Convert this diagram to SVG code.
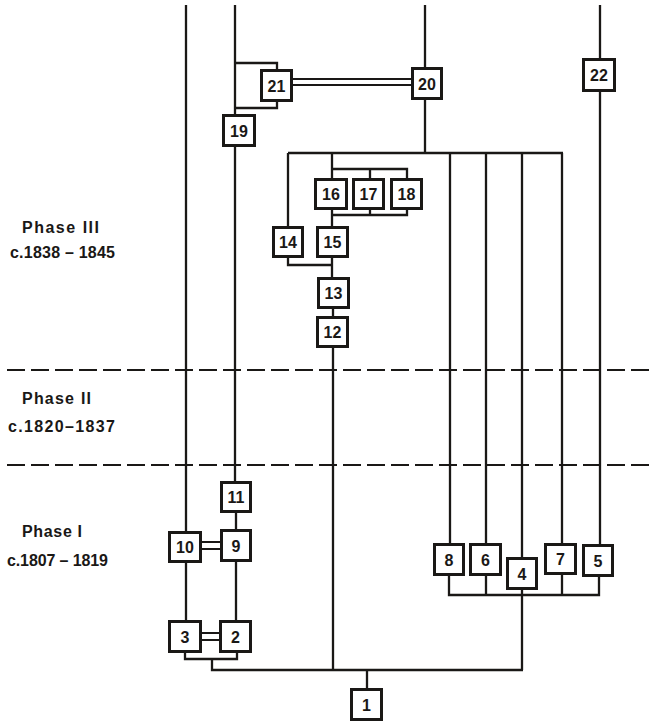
<svg xmlns="http://www.w3.org/2000/svg" width="651" height="724" viewBox="0 0 651 724">
<style>
.bx{fill:#fff;stroke:#1a1816;stroke-width:3}
.n{font-family:"Liberation Sans",Arial,sans-serif;font-weight:bold;font-size:16px;fill:#1a1816;text-anchor:middle}
.lb{font-family:"Liberation Sans",Arial,sans-serif;font-weight:bold;font-size:16px;fill:#1a1816}
.ln{fill:none;stroke:#1a1816;stroke-width:2.3}
.dl{fill:none;stroke:#1a1816;stroke-width:2}
.ds{fill:none;stroke:#1a1816;stroke-width:2;stroke-dasharray:18 6}
</style>
<rect width="651" height="724" fill="#fff"/>
<g id="phases">
<line class="ds" x1="7" y1="370" x2="651" y2="370"/>
<line class="ds" x1="7" y1="465" x2="651" y2="465"/>
<text class="lb" x="22" y="233" textLength="77" lengthAdjust="spacing">Phase III</text>
<text class="lb" x="10" y="258" textLength="105" lengthAdjust="spacing">c.1838 – 1845</text>
<text class="lb" x="22" y="404" textLength="69" lengthAdjust="spacing">Phase II</text>
<text class="lb" x="8" y="432" textLength="107" lengthAdjust="spacing">c.1820–1837</text>
<text class="lb" x="22" y="537" textLength="60" lengthAdjust="spacing">Phase I</text>
<text class="lb" x="7" y="566" textLength="101" lengthAdjust="spacing">c.1807 – 1819</text>
</g>
<g id="connectors">
<path class="ln" d="M186 5V531M186 563V620"/>
<path class="ln" d="M235 5V114M235 147V481M236 513V529M236 562V620"/>
<path class="ln" d="M235 63H277V69M277 102V108H235"/>
<path class="dl" d="M293 79H411M293 85H411"/>
<path class="ln" d="M425 5V67M425 100V153"/>
<path class="ln" d="M288 153H563M288 153V226M332 153V178"/>
<path class="ln" d="M332 169H407V178M370 169V178"/>
<path class="ln" d="M332 210V226M332 215H407V210M370 215V210"/>
<path class="ln" d="M288 258V265H332M332 258V277M333 309V316M333 348V670"/>
<path class="ln" d="M450 153V543M486 153V543M522 153V557M562 153V543"/>
<path class="ln" d="M600 5V58M600 92V544"/>
<path class="ln" d="M449 576V595H599V577M486 576V595M562 575V595M522 590V670"/>
<path class="dl" d="M202 542H220M202 549H220"/>
<path class="dl" d="M202 633H219M202 640H219"/>
<path class="ln" d="M185 653V659H237V653M212 659V670H523M367 670V688"/>
</g>
<g id="n1"><rect class="bx" x="351.5" y="689.5" width="30" height="30"/><text class="n" x="366.5" y="710.5">1</text></g>
<g id="n2"><rect class="bx" x="220.5" y="621.5" width="30" height="30"/><text class="n" x="235.5" y="642.5">2</text></g>
<g id="n3"><rect class="bx" x="169.5" y="621.5" width="31" height="30"/><text class="n" x="185" y="642.5">3</text></g>
<g id="n4"><rect class="bx" x="507.5" y="558.5" width="29" height="30"/><text class="n" x="522" y="579.5">4</text></g>
<g id="n5"><rect class="bx" x="583.5" y="545.5" width="29" height="30"/><text class="n" x="598" y="566.5">5</text></g>
<g id="n6"><rect class="bx" x="470.5" y="544.5" width="30" height="30"/><text class="n" x="485.5" y="565.5">6</text></g>
<g id="n7"><rect class="bx" x="545.5" y="544.5" width="30" height="29"/><text class="n" x="560.5" y="565">7</text></g>
<g id="n8"><rect class="bx" x="434.5" y="544.5" width="29" height="30"/><text class="n" x="449" y="565.5">8</text></g>
<g id="n9"><rect class="bx" x="221.5" y="530.5" width="29" height="30"/><text class="n" x="236" y="551.5">9</text></g>
<g id="n10"><rect class="bx" x="169.5" y="532.5" width="31" height="29"/><text class="n" x="185" y="553">10</text></g>
<g id="n11"><rect class="bx" x="221.5" y="482.5" width="29" height="29"/><text class="n" x="236" y="503">11</text></g>
<g id="n12"><rect class="bx" x="317.5" y="317.5" width="30" height="29"/><text class="n" x="332.5" y="338">12</text></g>
<g id="n13"><rect class="bx" x="318.5" y="278.5" width="30" height="29"/><text class="n" x="333.5" y="299">13</text></g>
<g id="n14"><rect class="bx" x="273.5" y="227.5" width="29" height="29"/><text class="n" x="288" y="248">14</text></g>
<g id="n15"><rect class="bx" x="317.5" y="227.5" width="30" height="29"/><text class="n" x="332.5" y="248">15</text></g>
<g id="n16"><rect class="bx" x="315.5" y="179.5" width="31" height="29"/><text class="n" x="331" y="200">16</text></g>
<g id="n17"><rect class="bx" x="353.5" y="179.5" width="30" height="29"/><text class="n" x="368.5" y="200">17</text></g>
<g id="n18"><rect class="bx" x="391.5" y="179.5" width="30" height="29"/><text class="n" x="406.5" y="200">18</text></g>
<g id="n19"><rect class="bx" x="223.5" y="115.5" width="31" height="30"/><text class="n" x="239" y="136.5">19</text></g>
<g id="n20"><rect class="bx" x="412.5" y="68.5" width="29" height="30"/><text class="n" x="427" y="89.5">20</text></g>
<g id="n21"><rect class="bx" x="261.5" y="70.5" width="30" height="30"/><text class="n" x="276.5" y="91.5">21</text></g>
<g id="n22"><rect class="bx" x="583.5" y="59.5" width="31" height="31"/><text class="n" x="599" y="81">22</text></g>
</svg>
